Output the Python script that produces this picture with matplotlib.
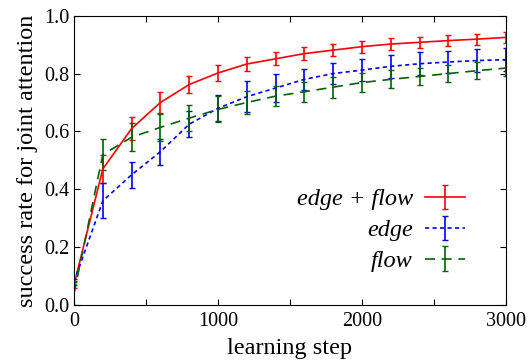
import matplotlib
matplotlib.use('Agg')
import matplotlib.pyplot as plt
from matplotlib.ticker import MultipleLocator

plt.rcParams['font.family'] = ['Liberation Serif', 'DejaVu Serif']

# Data
steps = [0, 200, 400, 600, 800, 1000, 1200, 1400, 1600, 1800, 2000, 2200, 2400, 2600, 2800, 3000]
edge_flow = [0.07, 0.47, 0.61, 0.70, 0.762, 0.802, 0.833, 0.851, 0.869, 0.881, 0.893, 0.902, 0.908, 0.914, 0.919, 0.925]
edge_flow_err = [0.012, 0.05, 0.04, 0.035, 0.03, 0.028, 0.025, 0.023, 0.023, 0.022, 0.021, 0.02, 0.02, 0.019, 0.019, 0.018]
edge = [0.08, 0.36, 0.45, 0.53, 0.625, 0.68, 0.72, 0.75, 0.78, 0.80, 0.812, 0.825, 0.834, 0.84, 0.845, 0.848]
edge_err = [0.01, 0.06, 0.045, 0.045, 0.046, 0.045, 0.053, 0.048, 0.036, 0.036, 0.038, 0.04, 0.039, 0.038, 0.04, 0.039]
flow = [0.04, 0.52, 0.58, 0.614, 0.646, 0.676, 0.70, 0.722, 0.737, 0.753, 0.769, 0.78, 0.79, 0.80, 0.81, 0.819]
flow_err = [0.04, 0.055, 0.048, 0.046, 0.045, 0.045, 0.039, 0.035, 0.035, 0.036, 0.032, 0.031, 0.03, 0.029, 0.03, 0.029]

fig = plt.figure(figsize=(5.29, 3.63), dpi=100)
ax = fig.add_axes([74/529, 1 - 305/363, 432/529, (305 - 15.7)/363])

ax.errorbar(steps, edge_flow, yerr=edge_flow_err, color='#ff0000', linestyle='-',
            linewidth=1.2, elinewidth=1.2, capsize=2, label='edge + flow')
ax.errorbar(steps, edge, yerr=edge_err, color='#0000ff', linestyle=(0, (2.5, 2)),
            linewidth=1.2, elinewidth=1.2, capsize=2, label='edge')
ax.errorbar(steps, flow, yerr=flow_err, color='#006400', linestyle=(0, (6, 4)),
            linewidth=1.2, elinewidth=1.2, capsize=2, label='flow')

ax.set_xlim(0, 3000)
ax.set_ylim(0, 1.0)
ax.xaxis.set_major_locator(MultipleLocator(1000))
ax.xaxis.set_minor_locator(MultipleLocator(500))
ax.yaxis.set_major_locator(MultipleLocator(0.2))
ax.tick_params(which='both', direction='in', top=True, right=True, labelsize=14.5, length=4, width=0.8)
ax.tick_params(axis='x', pad=5)
ax.tick_params(axis='y', pad=3)
ax.set_xlabel('learning step', fontsize=17.5, labelpad=5)
ax.set_ylabel('success rate for joint attention', fontsize=17.5, labelpad=5)

leg = ax.legend(loc='lower right', bbox_to_anchor=(0.905, 0.114), frameon=False, markerfirst=False,
                prop={'style': 'italic', 'size': 17.5}, handlelength=1.65, labelspacing=0.36,
                handletextpad=0.5, borderpad=0, borderaxespad=0)

fig.savefig('out.png', dpi=100)
